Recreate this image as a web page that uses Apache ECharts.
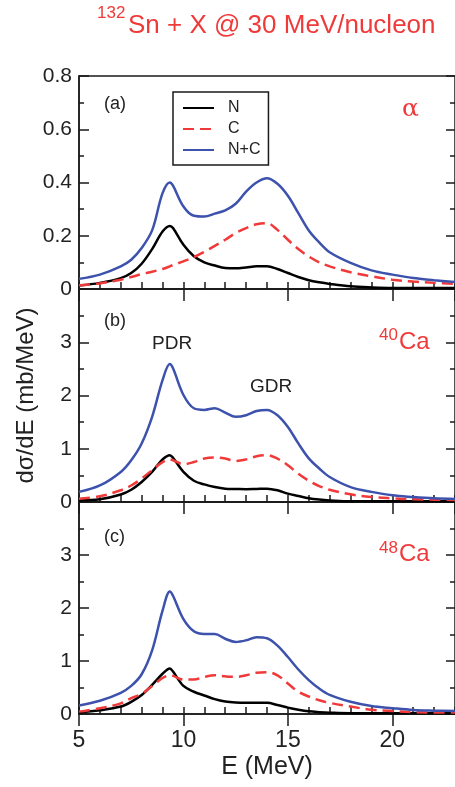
<!DOCTYPE html>
<html lang="en">
<head>
    <meta charset="UTF-8">
    <title>132Sn + X @ 30 MeV/nucleon</title>
    <script src="https://cdn.jsdelivr.net/npm/echarts@6/dist/echarts.min.js"></script>
    <style>
        * { margin: 0; padding: 0; box-sizing: border-box; }
        html, body { background: #fff; }
    </style>
</head>
<body>
<div id="main" style="width: 455px;height:787px;"></div>
<script type="text/javascript">
    // excitation energy grid (MeV), shared by all panels
    var energy = [5, 6, 7, 7.5, 8, 8.5, 9, 9.35, 9.5, 10, 10.5, 11, 11.5, 12, 12.5, 13, 13.5, 14, 14.5, 15, 15.5, 16, 16.5, 17, 18, 19, 20, 21, 22, 23];

    // (a) alpha target
    var alphaN  = [0.013, 0.023, 0.041, 0.06, 0.095, 0.15, 0.216, 0.237, 0.229, 0.166, 0.123, 0.10, 0.088, 0.079, 0.078, 0.081, 0.085, 0.085, 0.075, 0.06, 0.045, 0.033, 0.025, 0.019, 0.01, 0.006, 0.004, 0.004, 0.004, 0.004];
    var alphaC  = [0.014, 0.021, 0.035, 0.045, 0.056, 0.065, 0.075, 0.085, 0.09, 0.104, 0.12, 0.14, 0.162, 0.185, 0.21, 0.229, 0.243, 0.247, 0.222, 0.185, 0.15, 0.122, 0.10, 0.085, 0.063, 0.048, 0.035, 0.028, 0.023, 0.019];
    var alphaNC = [0.038, 0.054, 0.085, 0.11, 0.154, 0.22, 0.36, 0.40, 0.388, 0.31, 0.275, 0.272, 0.283, 0.295, 0.32, 0.366, 0.40, 0.416, 0.395, 0.35, 0.285, 0.22, 0.175, 0.138, 0.098, 0.07, 0.054, 0.041, 0.033, 0.026];

    // (b) 40Ca target
    var ca40N  = [0.03, 0.05, 0.14, 0.23, 0.377, 0.565, 0.80, 0.88, 0.83, 0.565, 0.40, 0.33, 0.28, 0.25, 0.245, 0.24, 0.245, 0.25, 0.22, 0.157, 0.113, 0.07, 0.045, 0.03, 0.013, 0.013, 0.013, 0.013, 0.013, 0.013];
    var ca40C  = [0.063, 0.107, 0.22, 0.31, 0.44, 0.60, 0.75, 0.80, 0.785, 0.71, 0.75, 0.816, 0.835, 0.816, 0.77, 0.80, 0.86, 0.88, 0.816, 0.69, 0.53, 0.40, 0.30, 0.23, 0.144, 0.094, 0.069, 0.05, 0.044, 0.038];
    var ca40NC = [0.19, 0.31, 0.565, 0.785, 1.10, 1.60, 2.29, 2.59, 2.51, 2.01, 1.76, 1.73, 1.76, 1.68, 1.60, 1.63, 1.71, 1.73, 1.63, 1.41, 1.10, 0.82, 0.63, 0.47, 0.28, 0.19, 0.125, 0.094, 0.07, 0.057];

    // (c) 48Ca target
    var ca48N  = [0.03, 0.07, 0.14, 0.23, 0.36, 0.55, 0.76, 0.86, 0.80, 0.53, 0.42, 0.35, 0.28, 0.235, 0.215, 0.21, 0.21, 0.21, 0.17, 0.12, 0.08, 0.05, 0.035, 0.025, 0.015, 0.015, 0.015, 0.015, 0.015, 0.015];
    var ca48C  = [0.045, 0.11, 0.2, 0.30, 0.38, 0.53, 0.68, 0.73, 0.72, 0.65, 0.65, 0.70, 0.73, 0.71, 0.70, 0.73, 0.78, 0.79, 0.73, 0.575, 0.42, 0.33, 0.26, 0.21, 0.14, 0.08, 0.055, 0.035, 0.03, 0.03];
    var ca48NC = [0.16, 0.25, 0.40, 0.53, 0.75, 1.2, 1.95, 2.31, 2.23, 1.79, 1.56, 1.51, 1.51, 1.42, 1.36, 1.39, 1.45, 1.43, 1.29, 1.075, 0.84, 0.64, 0.48, 0.36, 0.23, 0.15, 0.11, 0.076, 0.063, 0.055];

    var seriesNames = ['N', 'C', 'N+C'];
    var panels = [[alphaN, alphaC, alphaNC], [ca40N, ca40C, ca40NC], [ca48N, ca48C, ca48NC]];
    var yMax = [0.8, 4, 4];
    var yStep = [0.2, 1, 1];

    var FONT = "'Liberation Sans', Arial, sans-serif";
    var RED = '#f03a3a';
    var BLUE = '#3d52ad';

    var myChart = echarts.init(document.getElementById('main'));

    var grids = [
        {left: 79, right: -2, top: 76, height: 213},
        {left: 79, right: -2, top: 289, height: 213},
        {left: 79, right: -2, top: 502, height: 212}
    ];
    grids.forEach(function (g) {
        g.show = true;
        g.borderColor = '#1a1a1a';
        g.borderWidth = 1.5;
    });

    var xAxes = [];
    var yAxes = [];
    var i;
    // major x ticks (with labels on the last panel)
    for (i = 0; i < 3; i++) {
        xAxes.push({
            type: 'value', gridIndex: i, min: 5, max: 23, interval: 5,
            axisLine: {show: true, lineStyle: {color: '#1a1a1a', width: 1.5}},
            axisTick: {show: true, length: 12, lineStyle: {color: '#1a1a1a', width: 1.5}},
            axisLabel: {show: i === 2, showMaxLabel: false, margin: 15, fontSize: 23, color: '#222', fontFamily: FONT},
            splitLine: {show: false},
            name: i === 2 ? 'E (MeV)' : '',
            nameLocation: 'middle', nameGap: 41,
            nameTextStyle: {fontSize: 25, color: '#222', fontFamily: FONT}
        });
    }
    // minor x ticks, one per MeV
    for (i = 0; i < 3; i++) {
        xAxes.push({
            type: 'value', gridIndex: i, min: 5, max: 23, interval: 1,
            axisLine: {show: false},
            axisTick: {show: true, length: 7, lineStyle: {color: '#1a1a1a', width: 1.5}},
            axisLabel: {show: false},
            splitLine: {show: false}
        });
    }
    // left y axes
    for (i = 0; i < 3; i++) {
        yAxes.push({
            type: 'value', gridIndex: i, min: 0, max: yMax[i], interval: yStep[i],
            axisLine: {show: true, lineStyle: {color: '#1a1a1a', width: 1.5}},
            axisTick: {show: true, inside: true, length: 10, lineStyle: {color: '#1a1a1a', width: 1.5}},
            minorTick: {show: true, splitNumber: 2, length: 5, lineStyle: {color: '#1a1a1a', width: 1.5}},
            axisLabel: {showMaxLabel: i === 0, margin: 7, fontSize: 21, color: '#222', fontFamily: FONT},
            splitLine: {show: false},
            name: i === 1 ? 'dσ/dE (mb/MeV)' : '',
            nameLocation: 'middle', nameRotate: 90, nameGap: 41,
            nameTextStyle: {fontSize: 24, color: '#222', fontFamily: FONT}
        });
    }
    // right y axes (ticks only)
    for (i = 0; i < 3; i++) {
        yAxes.push({
            type: 'value', gridIndex: i, position: 'right', min: 0, max: yMax[i], interval: yStep[i],
            axisLine: {show: false},
            axisTick: {show: true, inside: true, length: 9, lineStyle: {color: '#1a1a1a', width: 1.5}},
            minorTick: {show: true, splitNumber: 2, length: 5, lineStyle: {color: '#1a1a1a', width: 1.5}},
            axisLabel: {show: false},
            splitLine: {show: false}
        });
    }

    var styles = [
        {color: '#000', width: 2.5, type: 'solid'},
        {color: RED, width: 2.5, type: [11, 6]},
        {color: BLUE, width: 2.5, type: 'solid'}
    ];

    var series = [];
    panels.forEach(function (curves, p) {
        curves.forEach(function (vals, k) {
            series.push({
                name: seriesNames[k],
                type: 'line',
                xAxisIndex: p,
                yAxisIndex: p,
                smooth: 0.35,
                symbol: 'none',
                silent: true,
                lineStyle: styles[k],
                itemStyle: {color: styles[k].color},
                data: energy.map(function (e, j) { return [e, vals[j]]; })
            });
        });
    });

    function txt(x, y, s, size, color, opts) {
        opts = opts || {};
        return {
            type: 'text', x: x, y: y, silent: true,
            style: {
                text: s, fontSize: size, fill: color,
                fontFamily: opts.family || FONT,
                align: opts.align || 'left', verticalAlign: 'middle'
            }
        };
    }

    var option = {
        animation: false,
        backgroundColor: '#fff',
        grid: grids,
        xAxis: xAxes,
        yAxis: yAxes,
        legend: {
            data: seriesNames,
            orient: 'vertical',
            left: 173, top: 92,
            padding: [8, 8, 7, 9],
            itemGap: 5,
            itemWidth: 31,
            itemHeight: 14,
            borderColor: '#1a1a1a',
            borderWidth: 1.5,
            selectedMode: false,
            itemStyle: {opacity: 0},
            textStyle: {fontSize: 16, color: '#222', fontFamily: FONT, padding: [0, 0, 0, 9]}
        },
        graphic: [
            txt(97, 13, '132', 17, RED),
            txt(128, 26, 'Sn + X @ 30 MeV/nucleon', 26, RED),
            txt(104, 104, '(a)', 18, '#222'),
            txt(104, 321, '(b)', 18, '#222'),
            txt(104, 537, '(c)', 18, '#222'),
            txt(402, 109, 'α', 25, RED, {family: "'DejaVu Serif', serif"}),
            txt(152, 344, 'PDR', 19, '#222'),
            txt(250, 387, 'GDR', 19, '#222'),
            txt(379, 335, '40', 17, RED),
            txt(399, 342, 'Ca', 24, RED),
            txt(379, 548, '48', 17, RED),
            txt(399, 554, 'Ca', 24, RED)
        ],
        series: series
    };

    myChart.setOption(option);
</script>
</body>
</html>
